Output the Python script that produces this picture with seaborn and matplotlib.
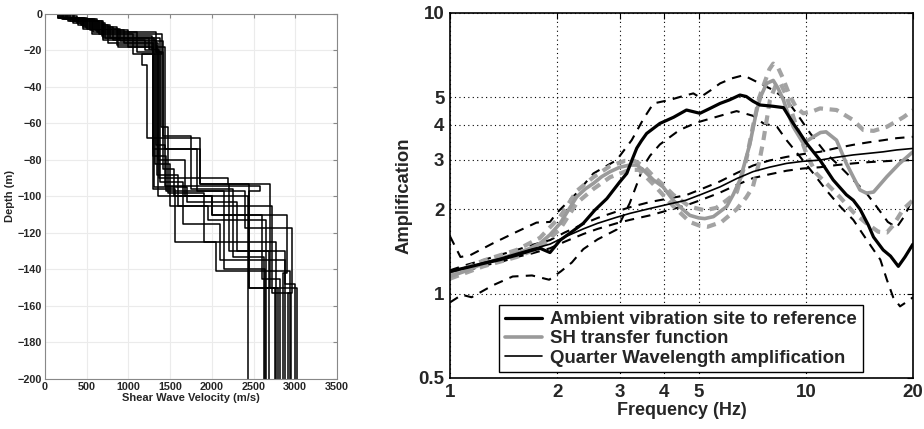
import matplotlib

matplotlib.use("Agg")

import matplotlib.pyplot as plt
import pandas as pd
import seaborn as sns
from matplotlib.ticker import FixedLocator, NullLocator

# ---- left panel: shear wave velocity profiles (layer velocity, layer bottom depth)
profile_vs = [
    [210, 560, 1400, 1160, 1220, 1860, 2200, 2880],
    [180, 450, 820, 1330, 1440, 2580, 2450, 3020],
    [250, 600, 1000, 1300, 1820, 2150, 2640],
    [150, 400, 750, 1350, 1680, 2430],
    [300, 680, 1280, 1370, 2190, 2700, 2650],
    [220, 500, 900, 1420, 1550, 2000, 2900, 2850],
    [170, 380, 700, 1310, 1700, 2300, 2680],
    [260, 620, 1100, 1390, 1480, 1900, 2770],
    [190, 480, 860, 1340, 1600, 2720, 2950],
    [330, 720, 1250, 1360, 2000, 2600, 2820],
    [200, 540, 950, 1300, 1450, 2400, 2960, 2910],
    [240, 580, 1330, 1410, 1750, 2250, 2620],
    [160, 430, 780, 1380, 1650, 2100, 2880, 3000],
    [280, 650, 1050, 1320, 1500, 1950, 2650, 2790],
    [210, 460, 880, 1440, 1860, 2450, 2760],
    [350, 700, 1200, 1290, 1560, 2050, 2940],
]
profile_depths = [
    [3, 11, 22, 28, 68, 93, 130, 200],
    [2, 7, 14, 72, 94, 97, 150, 200],
    [3, 9, 18, 74, 97, 140, 200],
    [2, 6, 16, 80, 100, 200],
    [4, 12, 20, 90, 93, 150, 200],
    [2, 8, 15, 85, 100, 110, 142, 200],
    [1, 5, 13, 95, 103, 130, 200],
    [3, 10, 21, 62, 98, 125, 200],
    [2, 7, 17, 88, 105, 153, 200],
    [5, 13, 19, 100, 110, 145, 200],
    [3, 9, 16, 78, 97, 117, 153, 200],
    [3, 10, 21, 67, 96, 133, 200],
    [2, 6, 13, 92, 115, 135, 148, 200],
    [4, 11, 22, 82, 105, 113, 150, 200],
    [2, 8, 18, 74, 93, 150, 200],
    [4, 14, 20, 96, 125, 141, 200],
]

# ---- right panel: amplification curves
amb_f = [1.0, 1.12, 1.24, 1.38, 1.54, 1.68, 1.79, 1.91, 2.04, 2.2, 2.37, 2.55, 2.76, 3.0,
         3.14, 3.25, 3.35, 3.45, 3.57, 3.89, 4.25, 4.62, 5.04, 5.4, 5.74, 6.1, 6.53, 6.8,
         7.1, 7.43, 8.1, 8.65, 9.22, 9.6, 10.05, 10.5, 10.96, 11.94, 13.0, 13.6, 14.2,
         15.0, 15.5, 16.5, 17.3, 18.2, 19.0, 20.0]
amb_a = [1.20, 1.24, 1.28, 1.32, 1.37, 1.42, 1.45, 1.40, 1.55, 1.66, 1.78, 1.98, 2.18, 2.50,
         2.68, 3.00, 3.30, 3.50, 3.72, 4.04, 4.25, 4.51, 4.39, 4.58, 4.76, 4.90, 5.10, 5.04,
         4.85, 4.70, 4.65, 4.60, 4.04, 3.75, 3.43, 3.20, 2.99, 2.54, 2.25, 2.15, 2.00,
         1.75, 1.59, 1.43, 1.36, 1.25, 1.35, 1.50]
amb_up_f = [1.0, 1.04, 1.07, 1.14, 1.32, 1.54, 1.75, 1.91, 1.99, 2.27, 2.53, 2.94, 3.24, 3.5,
            3.73, 4.15, 4.5, 4.83, 5.04, 5.4, 5.74, 6.2, 6.68, 7.43, 8.1, 8.83, 9.42, 10.3,
            11.4, 12.5, 13.6, 14.8, 16.0, 17.0, 18.0, 19.0, 20.0]
amb_up_a = [1.60, 1.45, 1.35, 1.37, 1.51, 1.66, 1.79, 1.80, 1.93, 2.28, 2.68, 2.99, 3.52, 4.20,
            4.76, 4.90, 5.05, 5.17, 5.00, 5.30, 5.61, 5.85, 6.00, 5.61, 5.31, 4.90, 4.39, 3.72,
            3.16, 2.83, 2.54, 2.28, 2.00, 1.80, 1.72, 1.90, 2.20]
amb_lo_f = [1.0, 1.08, 1.15, 1.32, 1.5, 1.7, 1.9, 2.05, 2.2, 2.37, 2.6, 2.94, 3.2, 3.35, 3.5,
            3.65, 3.89, 4.42, 4.94, 5.74, 6.39, 7.11, 7.6, 8.3, 8.83, 9.6, 10.5, 11.4, 12.5,
            13.6, 14.8, 16.2, 16.9, 17.6, 18.4, 19.6, 20.0]
amb_lo_a = [0.93, 0.99, 0.97, 1.07, 1.15, 1.16, 1.12, 1.20, 1.29, 1.44, 1.56, 1.69, 2.10, 2.45,
            2.85, 3.10, 3.40, 3.83, 4.07, 4.30, 4.47, 4.30, 4.04, 3.93, 3.52, 3.09, 2.68, 2.34,
            2.04, 1.83, 1.56, 1.32, 1.12, 0.97, 0.90, 0.95, 0.97]

sh_f = [1.0, 1.12, 1.24, 1.38, 1.54, 1.68, 1.79, 1.91, 2.04, 2.15, 2.27, 2.4, 2.53, 2.67, 2.82,
        3.0, 3.2, 3.35, 3.5, 3.73, 3.97, 4.24, 4.5, 4.72, 5.0, 5.2, 5.5, 5.99, 6.25, 6.53, 6.75,
        6.97, 7.28, 7.5, 7.76, 8.1, 8.35, 8.65, 8.9, 9.22, 9.84, 10.5, 11.0, 11.4, 12.2, 13.0,
        13.6, 14.2, 14.8, 15.5, 16.9, 18.3, 20.0]
sh_a = [1.15, 1.21, 1.28, 1.33, 1.39, 1.45, 1.51, 1.62, 1.78, 1.98, 2.21, 2.36, 2.47, 2.61, 2.72,
        2.82, 2.87, 2.87, 2.75, 2.54, 2.40, 2.15, 2.00, 1.90, 1.86, 1.85, 1.88, 2.04, 2.25, 2.54,
        2.95, 3.43, 4.51, 5.10, 5.61, 5.75, 5.40, 4.90, 4.40, 3.93, 3.43, 3.62, 3.75, 3.77, 3.52,
        2.91, 2.60, 2.34, 2.28, 2.30, 2.61, 2.90, 3.20]
sh_up_f = [1.0, 1.24, 1.54, 1.79, 2.04, 2.27, 2.53, 2.82, 3.1, 3.3, 3.5, 3.73, 4.0, 4.24, 4.72,
           5.2, 5.6, 5.99, 6.4, 6.8, 7.1, 7.4, 7.6, 7.9, 8.1, 8.35, 8.6, 9.0, 9.4, 9.84, 10.4,
           10.96, 12.2, 13.6, 14.5, 15.5, 16.9, 18.8, 20.0]
sh_up_a = [1.17, 1.31, 1.43, 1.58, 1.88, 2.32, 2.60, 2.85, 2.97, 2.97, 2.85, 2.62, 2.42, 2.25, 2.04,
           1.98, 2.02, 2.15, 2.30, 2.99, 3.93, 5.00, 5.50, 6.30, 6.60, 6.40, 5.90, 5.10, 4.60, 4.39,
           4.45, 4.57, 4.51, 4.15, 3.83, 3.80, 3.93, 4.25, 4.50]
sh_lo_f = [1.0, 1.24, 1.54, 1.79, 2.04, 2.27, 2.53, 2.82, 3.2, 3.4, 3.73, 4.24, 4.72, 5.0, 5.3,
           5.8, 6.4, 6.8, 7.1, 7.4, 7.6, 7.93, 8.27, 8.5, 8.83, 9.42, 10.1, 10.7, 11.5, 12.5,
           13.6, 14.8, 16.0, 16.9, 17.6, 18.8, 20.0]
sh_lo_a = [1.13, 1.25, 1.35, 1.46, 1.70, 2.10, 2.36, 2.60, 2.76, 2.76, 2.45, 2.05, 1.80, 1.75, 1.73,
           1.80, 2.00, 2.20, 2.40, 2.95, 3.52, 4.90, 5.61, 5.60, 5.04, 3.93, 3.09, 2.68, 2.45, 2.20,
           1.95, 1.78, 1.66, 1.65, 1.75, 2.00, 2.15]

qw_f = [1.0, 1.1, 1.25, 1.4, 1.54, 1.7, 1.91, 2.1, 2.37, 2.6, 2.94, 3.2, 3.65, 4.1, 4.6, 5.1,
        5.74, 6.4, 7.11, 7.9, 8.83, 9.8, 10.96, 12.2, 13.6, 15.0, 16.5, 18.0, 20.0]
qw_a = [1.19, 1.23, 1.29, 1.34, 1.39, 1.44, 1.50, 1.59, 1.70, 1.78, 1.87, 1.93, 2.01, 2.08, 2.15,
        2.26, 2.40, 2.57, 2.72, 2.82, 2.91, 2.96, 2.99, 3.06, 3.12, 3.16, 3.20, 3.25, 3.29]
qw_up_a = [1.21, 1.26, 1.32, 1.38, 1.43, 1.49, 1.55, 1.65, 1.77, 1.86, 1.96, 2.03, 2.12, 2.18,
           2.24, 2.36, 2.51, 2.69, 2.86, 2.98, 3.07, 3.14, 3.20, 3.30, 3.39, 3.46, 3.52, 3.58, 3.62]
qw_lo_a = [1.17, 1.20, 1.26, 1.30, 1.35, 1.39, 1.45, 1.53, 1.63, 1.70, 1.78, 1.83, 1.90, 1.98,
           2.06, 2.16, 2.29, 2.44, 2.58, 2.66, 2.74, 2.79, 2.82, 2.87, 2.91, 2.94, 2.96, 2.98, 2.99]

legend_labels = ["Ambient vibration site to reference", "SH transfer function",
                 "Quarter Wavelength amplification"]
freq_ticks = [1, 2, 3, 4, 5, 10, 20]
amp_ticks = [0.5, 1, 2, 3, 4, 5, 10]

sns.set_style("white")
plt.rcParams["font.family"] = ["Liberation Sans", "DejaVu Sans"]
plt.rcParams["font.weight"] = "bold"

fig = plt.figure(figsize=(9.24, 4.29), dpi=100)
ax1 = fig.add_axes([0.0487, 0.1166, 0.316, 0.8508])
ax2 = fig.add_axes([0.487, 0.1189, 0.501, 0.8508])

# step outlines of each profile
rows = []
for i, (vs, ds) in enumerate(zip(profile_vs, profile_depths)):
    top = 0
    for v, bot in zip(vs, ds):
        rows.append({"profile": i, "vs": v, "depth": -top})
        rows.append({"profile": i, "vs": v, "depth": -bot})
        top = bot
prof = pd.DataFrame(rows)

sns.lineplot(data=prof, x="vs", y="depth", units="profile", estimator=None, sort=False,
             color="black", lw=1.1, ax=ax1)
ax1.set_xlim(0, 3500)
ax1.set_ylim(-200, 0)
ax1.set_xticks(range(0, 3501, 500))
ax1.set_yticks(range(-200, 1, 20))
ax1.grid(True, color="#ebebeb", lw=0.8)
ax1.set_axisbelow(True)
ax1.tick_params(direction="in", length=3, labelsize=7.8, color="#888888",
                top=True, right=True, pad=2)
for s in ax1.spines.values():
    s.set_color("#888888")
    s.set_linewidth(0.8)
ax1.set_xlabel("Shear Wave Velocity (m/s)", fontsize=8, fontweight="bold", labelpad=1)
ax1.set_ylabel("Depth (m)", fontsize=8, fontweight="bold", labelpad=2)

# right panel
dash_k = dict(color="black", lw=1.5, linestyle=(0, (4.5, 3.5)))
dash_g = dict(color="#a3a3a3", lw=3.0, linestyle=(0, (2.2, 1.6)))
sns.lineplot(x=amb_up_f, y=amb_up_a, ax=ax2, **dash_k)
sns.lineplot(x=amb_lo_f, y=amb_lo_a, ax=ax2, **dash_k)
sns.lineplot(x=qw_f, y=qw_up_a, ax=ax2, **dash_k)
sns.lineplot(x=qw_f, y=qw_lo_a, ax=ax2, **dash_k)
sns.lineplot(x=sh_up_f, y=sh_up_a, ax=ax2, **dash_g)
sns.lineplot(x=sh_lo_f, y=sh_lo_a, ax=ax2, **dash_g)
sns.lineplot(x=sh_f, y=sh_a, ax=ax2, color="#9a9a9a", lw=2.6, label=legend_labels[1])
sns.lineplot(x=amb_f, y=amb_a, ax=ax2, color="black", lw=2.3, label=legend_labels[0])
sns.lineplot(x=qw_f, y=qw_a, ax=ax2, color="black", lw=1.2, label=legend_labels[2])

ax2.set_xscale("log")
ax2.set_yscale("log")
ax2.set_xlim(1, 20)
ax2.set_ylim(0.5, 10)
ax2.xaxis.set_major_locator(FixedLocator(freq_ticks))
ax2.yaxis.set_major_locator(FixedLocator(amp_ticks))
ax2.xaxis.set_minor_locator(NullLocator())
ax2.yaxis.set_minor_locator(NullLocator())
ax2.set_xticklabels([str(t) for t in freq_ticks])
ax2.set_yticklabels([str(t) for t in amp_ticks])
ax2.grid(True, which="major", color="black", lw=0.8, linestyle=(0, (1, 3)))
ax2.tick_params(direction="in", length=4, labelsize=13.5, top=True, right=True, pad=4,
                color="black")
for s in ax2.spines.values():
    s.set_color("black")
    s.set_linewidth(1.2)
ax2.set_xlabel("Frequency (Hz)", fontsize=13, fontweight="bold", labelpad=1)
ax2.set_ylabel("Amplification", fontsize=13.3, fontweight="bold", labelpad=4)

handles, labels = ax2.get_legend_handles_labels()
order = [labels.index(l) for l in legend_labels]
ax2.legend([handles[i] for i in order], [labels[i] for i in order],
           loc="lower left", bbox_to_anchor=(0.106, 0.016), borderaxespad=0,
           frameon=True, fancybox=False, framealpha=1, edgecolor="black",
           prop={"weight": "bold", "size": 13.4}, handlelength=2.0, handletextpad=0.45,
           labelspacing=0.12, borderpad=0.3)

fig.savefig("out.png", dpi=100)
